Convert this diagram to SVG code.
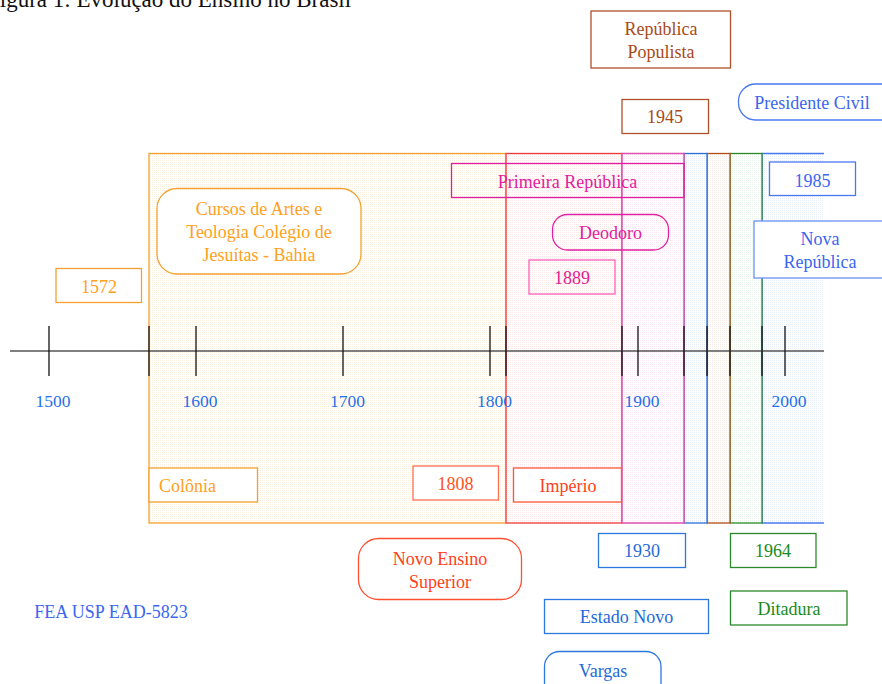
<svg xmlns="http://www.w3.org/2000/svg" width="882" height="684" viewBox="0 0 882 684">
<style>
text{font-family:"Liberation Serif","Times New Roman",serif;font-size:18px;text-anchor:middle}
.box{fill:#fff}
.yr{fill:#1f6fe8;font-size:17.5px}
.tick{stroke:#111;stroke-width:1.3}
</style>
<defs>
<pattern id="pO" width="2" height="2" patternUnits="userSpaceOnUse"><rect width="2" height="2" fill="#fff"/><rect width="1" height="1" fill="#f7b860" fill-opacity="0.2"/></pattern>
<pattern id="pR" width="2" height="2" patternUnits="userSpaceOnUse"><rect width="2" height="2" fill="#fff"/><rect width="1" height="1" fill="#ff8080" fill-opacity="0.18"/></pattern>
<pattern id="pM" width="2" height="2" patternUnits="userSpaceOnUse"><rect width="2" height="2" fill="#fff"/><rect width="1" height="1" fill="#f080c0" fill-opacity="0.18"/></pattern>
<pattern id="pB" width="2" height="2" patternUnits="userSpaceOnUse"><rect width="2" height="2" fill="#fff"/><rect width="1" height="1" fill="#80a8f0" fill-opacity="0.2"/></pattern>
<pattern id="pN" width="2" height="2" patternUnits="userSpaceOnUse"><rect width="2" height="2" fill="#fff"/><rect width="1" height="1" fill="#d09070" fill-opacity="0.18"/></pattern>
<pattern id="pG" width="2" height="2" patternUnits="userSpaceOnUse"><rect width="2" height="2" fill="#fff"/><rect width="1" height="1" fill="#90c890" fill-opacity="0.2"/></pattern>
</defs>
<rect width="882" height="684" fill="#fff"/>
<text x="-13" y="7" style="font-size:23px;text-anchor:start;fill:#111">Figura 1: Evolução do Ensino no Brasil</text>

<g id="periods">
<g id="colonia-period"><rect x="149" y="153.5" width="357" height="369.5" fill="url(#pO)" stroke="#f5a030" stroke-width="1.3"/></g>
<g id="imperio-period"><rect x="506" y="153.5" width="116" height="369.5" fill="url(#pR)" stroke="#f03a3a" stroke-width="1.3"/><line x1="506" y1="153.5" x2="506" y2="523" stroke="#ff7070" stroke-width="1.6"/></g>
<g id="nova-period"><rect x="762" y="153.5" width="62" height="369.5" fill="url(#pB)" stroke="none"/><path d="M824 153.5H762V523H824" fill="none" stroke="#4a78f0" stroke-width="1.3"/></g>
<g id="ditadura-period"><rect x="730" y="153.5" width="32" height="369.5" fill="url(#pG)" stroke="#2a8a2a" stroke-width="1.3"/></g>
<g id="populista-period"><rect x="707" y="153.5" width="23" height="369.5" fill="url(#pN)" stroke="#b0501a" stroke-width="1.3"/></g>
<g id="vargas-period"><rect x="684" y="153.5" width="23" height="369.5" fill="url(#pB)" stroke="#2a70d8" stroke-width="1.3"/></g>
<g id="primeira-period"><rect x="622" y="153.5" width="62" height="369.5" fill="url(#pM)" stroke="#e050b0" stroke-width="1.5"/></g>
</g>

<g id="connectors">
<line x1="10" y1="351" x2="824" y2="351" stroke="#555" stroke-width="1.6"/>
<g class="tick">
<line x1="49" y1="326" x2="49" y2="376"/>
<line x1="149" y1="326" x2="149" y2="376"/>
<line x1="196" y1="326" x2="196" y2="376"/>
<line x1="343" y1="326" x2="343" y2="376"/>
<line x1="490" y1="326" x2="490" y2="376"/>
<line x1="506" y1="326" x2="506" y2="376"/>
<line x1="622" y1="326" x2="622" y2="376"/>
<line x1="638" y1="326" x2="638" y2="376"/>
<line x1="684" y1="326" x2="684" y2="376"/>
<line x1="707" y1="326" x2="707" y2="376"/>
<line x1="730" y1="326" x2="730" y2="376"/>
<line x1="762" y1="326" x2="762" y2="376"/>
<line x1="785" y1="326" x2="785" y2="376"/>
</g>
</g>

<g id="years">
<text class="yr" x="53" y="407">1500</text>
<text class="yr" x="200" y="407">1600</text>
<text class="yr" x="347.5" y="407">1700</text>
<text class="yr" x="494.5" y="407">1800</text>
<text class="yr" x="642" y="407">1900</text>
<text class="yr" x="789" y="407">2000</text>
</g>

<g id="n1572"><rect x="56" y="268.5" width="85.5" height="34" class="box" stroke="#f5a030" stroke-width="1.3"/><text x="99" y="293" fill="#ffa020">1572</text></g>
<g id="cursos"><rect x="157" y="188.5" width="204" height="85.5" rx="20" class="box" stroke="#f5a030" stroke-width="1.3"/>
<text x="259" y="215" fill="#ffa020">Cursos de Artes e</text><text x="259" y="238" fill="#ffa020">Teologia Colégio de</text><text x="259" y="261" fill="#ffa020">Jesuítas - Bahia</text></g>
<g id="colonia"><rect x="149" y="468" width="108.5" height="34" class="box" stroke="#f5a030" stroke-width="1.3"/><text x="159" y="492" fill="#ffa020" style="text-anchor:start">Colônia</text></g>
<g id="n1808"><rect x="413" y="466" width="85.5" height="34" class="box" stroke="#ff7050" stroke-width="1.3"/><text x="455.5" y="490" fill="#ff5020">1808</text></g>
<g id="imperio"><rect x="513.5" y="468" width="108" height="34" class="box" stroke="#ff5535" stroke-width="1.3"/><text x="568" y="492" fill="#ff4020">Império</text></g>
<g id="novoensino"><rect x="358.5" y="538.5" width="163" height="61" rx="20" class="box" stroke="#ff5030" stroke-width="1.3"/><text x="440" y="565" fill="#ff4020">Novo Ensino</text><text x="440" y="588" fill="#ff4020">Superior</text></g>
<g id="fea"><text x="111" y="618" fill="#3a66f0">FEA USP EAD-5823</text></g>
<g id="n1930"><rect x="598.5" y="533.5" width="87" height="34" class="box" stroke="#2a78e0" stroke-width="1.3"/><text x="642" y="557" fill="#1e6ad8">1930</text></g>
<g id="n1964"><rect x="730.5" y="533.5" width="85.5" height="34" class="box" stroke="#2a8a2a" stroke-width="1.3"/><text x="773" y="557" fill="#1a8a1a">1964</text></g>
<g id="estadonovo"><rect x="544.5" y="599.5" width="164" height="34" class="box" stroke="#2a78e0" stroke-width="1.3"/><text x="626.5" y="623" fill="#1e6ad8">Estado Novo</text></g>
<g id="ditadura"><rect x="730.5" y="591" width="116.5" height="34" class="box" stroke="#2a8a2a" stroke-width="1.3"/><text x="789" y="615" fill="#1a8a1a">Ditadura</text></g>
<g id="vargas"><rect x="544.5" y="651.5" width="116.5" height="50" rx="15" class="box" stroke="#2a78e0" stroke-width="1.3"/><text x="603" y="677" fill="#1e6ad8">Vargas</text></g>
<g id="populista"><rect x="591" y="11" width="139.5" height="57" class="box" stroke="#b0502a" stroke-width="1.3"/><text x="661" y="35" fill="#a84a1a">República</text><text x="661" y="58" fill="#a84a1a">Populista</text></g>
<g id="n1945"><rect x="622" y="99.5" width="86.5" height="34" class="box" stroke="#b0502a" stroke-width="1.3"/><text x="665" y="123" fill="#a84a1a">1945</text></g>
<g id="presidente"><rect x="738.5" y="84" width="160" height="36" rx="17" class="box" stroke="#4a78f0" stroke-width="1.3"/><text x="812" y="109" fill="#3a66f0">Presidente Civil</text></g>
<g id="primeira"><rect x="451.5" y="163.5" width="232.5" height="34" fill="none" stroke="#e020a0" stroke-width="1.3"/><text x="567.5" y="188" fill="#e020a0">Primeira República</text></g>
<g id="deodoro"><rect x="552.5" y="214.5" width="116" height="35.5" rx="15" fill="none" stroke="#e020a0" stroke-width="1.3"/><text x="610.5" y="239" fill="#e020a0">Deodoro</text></g>
<g id="n1889"><rect x="529" y="260" width="86" height="34" fill="none" stroke="#ff60b8" stroke-width="1.3"/><text x="572" y="284" fill="#e02090">1889</text></g>
<g id="n1985"><rect x="769.5" y="162" width="86" height="33.5" class="box" stroke="#4a78f0" stroke-width="1.3"/><text x="812.5" y="187" fill="#3a66f0">1985</text></g>
<g id="novarep"><rect x="754" y="221" width="140" height="57" class="box" stroke="#6a90f8" stroke-width="1.3"/><text x="820" y="245" fill="#3a66f0">Nova</text><text x="820" y="268" fill="#3a66f0">República</text></g>
</svg>
